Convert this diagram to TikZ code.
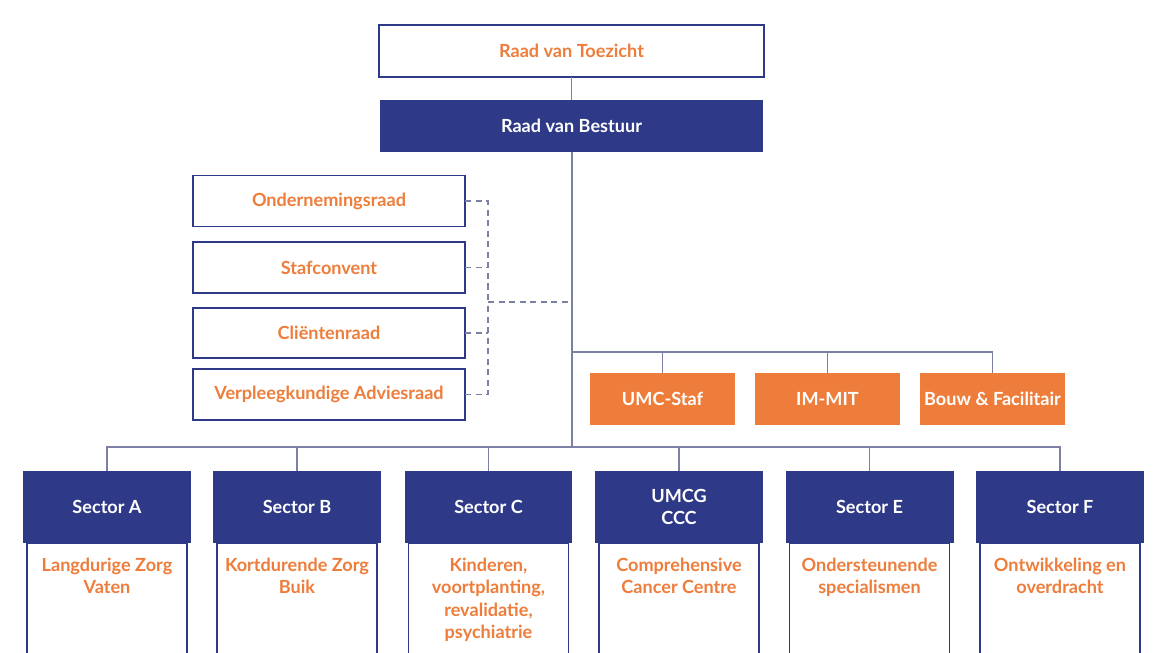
\documentclass[tikz,border=0pt]{standalone}
\usepackage{fontspec}
\setmainfont{Lato}
\usetikzlibrary{positioning}
\definecolor{umcgblauw}{HTML}{2E3A87}
\definecolor{umcgoranje}{HTML}{EE7D3B}
\definecolor{lijngrijs}{HTML}{7C80A4}

\begin{document}
\begin{tikzpicture}[x=0.02cm, y=-0.02cm,
    every node/.style={font=\fontsize{10.3}{12.8}\selectfont\bfseries, align=center, inner sep=0pt, outer sep=0pt},
    raad/.style={rectangle, draw=umcgblauw, line width=1.1pt, fill=white, text=umcgoranje},
    bestuur/.style={rectangle, fill=umcgblauw, text=white},
    staf/.style={rectangle, fill=umcgoranje, text=white, minimum width=2.9cm, minimum height=1.04cm},
    sectorkop/.style={rectangle, fill=umcgblauw, text=white, minimum width=3.36cm, minimum height=1.44cm},
    sectorbody/.style={rectangle, draw=umcgblauw, line width=1.1pt, fill=white, text=umcgoranje, inner ysep=0.3cm},
    verbinding/.style={draw=lijngrijs, line width=0.7pt},
    advies/.style={draw=lijngrijs, line width=0.7pt, dash pattern=on 3.5pt off 2.5pt}]

  \useasboundingbox (0,0) rectangle (1165,652);
  \clip (0,0) rectangle (1165,652);

  % top
  \node[raad, minimum width=7.7cm, minimum height=1.04cm] (toezicht) at (571.5,51) {Raad van Toezicht};
  \node[bestuur, minimum width=7.66cm, minimum height=1.04cm] (bestuur) at (571.5,126) {Raad van Bestuur};

  % adviesorganen
  \node[raad, minimum width=5.44cm, minimum height=1.02cm] (or) at (329,201) {Ondernemingsraad};
  \node[raad, minimum width=5.44cm, minimum height=1.02cm] (sc) at (329,267.5) {Stafconvent};
  \node[raad, minimum width=5.44cm, minimum height=1.0cm] (cr) at (329,333) {Cliëntenraad};
  \node[raad, minimum width=5.44cm, minimum height=1.02cm] (va) at (329,394.5) {Verpleegkundige Adviesraad};

  % stafdiensten
  \node[staf] (umcstaf) at (662.5,399) {UMC-Staf};
  \node[staf] (immit) at (827.5,399) {IM-MIT};
  \node[staf] (bouw) at (992.5,399) {Bouw \& Facilitair};

  % sectoren
  \node[sectorkop] (sa) at (107,507) {Sector A};
  \node[sectorkop] (sb) at (297,507) {Sector B};
  \node[sectorkop] (scc) at (488.5,507) {Sector C};
  \node[sectorkop] (ccc) at (679,507) {UMCG\\CCC};
  \node[sectorkop] (se) at (869.5,507) {Sector E};
  \node[sectorkop] (sf) at (1060,507) {Sector F};

  \node[sectorbody, below=0pt of sa] (sa-tekst) {\parbox[t][2.4cm][t]{3.2cm}{\centering Langdurige Zorg\\Vaten}};
  \node[sectorbody, below=0pt of sb] (sb-tekst) {\parbox[t][2.4cm][t]{3.2cm}{\centering Kortdurende Zorg\\Buik}};
  \node[sectorbody, below=0pt of scc] (scc-tekst) {\parbox[t][2.4cm][t]{3.2cm}{\centering Kinderen,\\voortplanting,\\revalidatie,\\psychiatrie}};
  \node[sectorbody, below=0pt of ccc] (ccc-tekst) {\parbox[t][2.4cm][t]{3.2cm}{\centering Comprehensive\\Cancer Centre}};
  \node[sectorbody, below=0pt of se] (se-tekst) {\parbox[t][2.4cm][t]{3.2cm}{\centering Ondersteunende\\specialismen}};
  \node[sectorbody, below=0pt of sf] (sf-tekst) {\parbox[t][2.4cm][t]{3.2cm}{\centering Ontwikkeling en\\overdracht}};

  \coordinate (adviespunt) at (572,302);
  \coordinate (stafpunt) at (572,352);
  \coordinate (sectorpunt) at (572,447);
  \coordinate (adviesbus) at (488,302);

  % lijnen
  \path[verbinding] (toezicht) -- (bestuur);
  \path[verbinding] (bestuur.south -| stafpunt) -- (sectorpunt);
  \path[verbinding] (stafpunt) -| (bouw.north);
  \path[verbinding] (umcstaf.north) -- (umcstaf.north |- stafpunt);
  \path[verbinding] (immit.north) -- (immit.north |- stafpunt);
  \path[verbinding] (sa.north) |- (sf.north |- sectorpunt) -- (sf.north);
  \path[verbinding] (sb.north) -- (sb.north |- sectorpunt);
  \path[verbinding] (scc.north) -- (scc.north |- sectorpunt);
  \path[verbinding] (ccc.north) -- (ccc.north |- sectorpunt);
  \path[verbinding] (se.north) -- (se.north |- sectorpunt);

  \path[advies] (or.east) -| (adviesbus);
  \path[advies] (va.east) -| (adviesbus);
  \path[advies] (sc.east) -- (sc.east -| adviesbus);
  \path[advies] (cr.east) -- (cr.east -| adviesbus);
  \path[advies] (adviesbus) -- (adviespunt);
\end{tikzpicture}
\end{document}
